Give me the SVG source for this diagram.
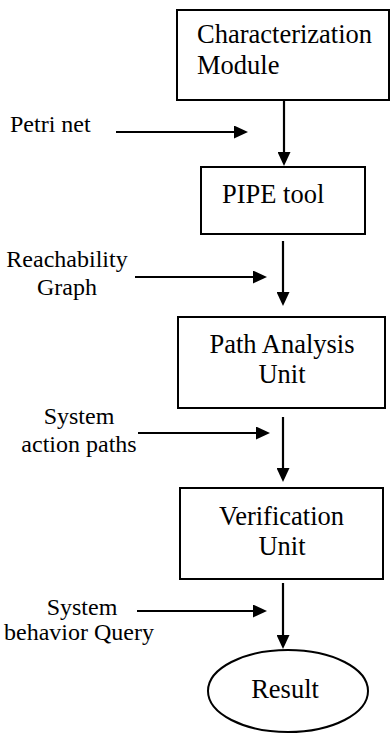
<svg xmlns="http://www.w3.org/2000/svg" width="391" height="740" viewBox="0 0 391 740">
  <style>
    .box { fill: #fff; stroke: #000; stroke-width: 2; }
    .wire { stroke: #000; stroke-width: 2.2; fill: none; marker-end: url(#head); }
    text { font-family: "Liberation Serif", "Times New Roman", Tinos, "DejaVu Serif", serif; fill: #000; }
    .big { font-size: 26.5px; }
    .small { font-size: 24px; }
    .mid { text-anchor: middle; }
  </style>
  <defs>
    <marker id="head" viewBox="0 0 14 13" refX="2" refY="6.5" markerWidth="14" markerHeight="13" markerUnits="userSpaceOnUse" orient="auto">
      <path d="M0,0 L14,6.5 L0,13 z" fill="#000"/>
    </marker>
  </defs>
  <rect width="391" height="740" fill="#fff"/>

  <g id="characterization">
    <rect class="box" x="177" y="10" width="212" height="90"/>
    <text class="big" x="197" y="43">Characterization</text>
    <text class="big" x="197" y="74">Module</text>
  </g>

  <g id="pipe">
    <rect class="box" x="201" y="167" width="164" height="67"/>
    <text class="big" x="222" y="203">PIPE tool</text>
  </g>

  <g id="path-analysis">
    <rect class="box" x="178" y="317" width="207" height="91"/>
    <text class="big mid" x="282" y="353">Path Analysis</text>
    <text class="big mid" x="282" y="383">Unit</text>
  </g>

  <g id="verification">
    <rect class="box" x="180" y="488" width="203" height="91"/>
    <text class="big mid" x="281.5" y="525">Verification</text>
    <text class="big mid" x="282" y="555">Unit</text>
  </g>

  <g id="result">
    <ellipse class="box" cx="288" cy="691" rx="80" ry="41"/>
    <text class="big mid" x="285" y="698">Result</text>
  </g>

  <g id="labels">
    <text class="small" x="10" y="132">Petri net</text>
    <text class="small mid" x="67" y="267">Reachability</text>
    <text class="small mid" x="67" y="295">Graph</text>
    <text class="small mid" x="79" y="424">System</text>
    <text class="small mid" x="79" y="452">action paths</text>
    <text class="small mid" x="82" y="615">System</text>
    <text class="small mid" x="79" y="640">behavior Query</text>
  </g>

  <g id="connectors">
    <line class="wire" x1="284" y1="100" x2="284" y2="154"/>
    <line class="wire" x1="283" y1="241" x2="283" y2="294"/>
    <line class="wire" x1="283" y1="417" x2="283" y2="470"/>
    <line class="wire" x1="283" y1="583" x2="283" y2="637"/>
    <line class="wire" x1="116" y1="132" x2="236" y2="132"/>
    <line class="wire" x1="135" y1="277" x2="255" y2="277"/>
    <line class="wire" x1="138" y1="433" x2="258" y2="433"/>
    <line class="wire" x1="137" y1="611" x2="255" y2="611"/>
  </g>
</svg>
